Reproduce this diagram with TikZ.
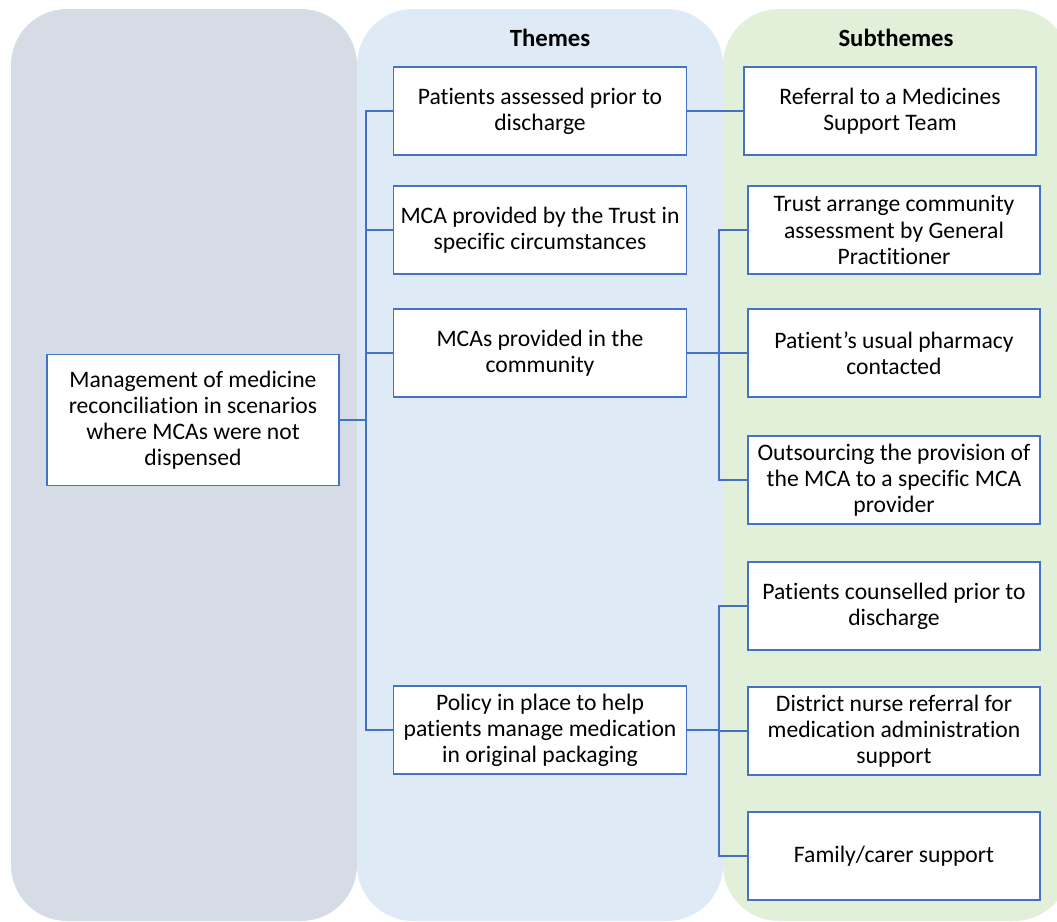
\documentclass[tikz,border=0pt]{standalone}
\usepackage{fontspec}
\setmainfont[Ligatures={NoCommon}]{Carlito}
\usepackage{tikz}

\definecolor{panelgrey}{HTML}{D6DCE5}
\definecolor{panelblue}{HTML}{DEEBF7}
\definecolor{panelgreen}{HTML}{E2F0D9}
\definecolor{linkblue}{HTML}{4472C4}

\tikzset{
  panel/.style={rounded corners=1.4cm},
  box/.style={draw=linkblue, line width=1pt, fill=white, align=center,
    minimum width=7.3cm, minimum height=2.2cm, inner sep=2pt,
    font=\fontsize{16.8pt}{18.6pt}\selectfont},
  head/.style={font=\fontsize{17.6pt}{20pt}\selectfont\bfseries},
  link/.style={draw=linkblue, line width=1pt}
}

\begin{document}
\begin{tikzpicture}[x=0.025cm, y=-0.025cm]
\clip (0,0) rectangle (1057,921);

\fill[panelgrey, panel] (11,9) rectangle (357,921);
\fill[panelblue, panel] (357,9) rectangle (723,921);
\fill[panelgreen, panel] (723,9) rectangle (1070,921);

\node[head] (themes) at (550,38) {Themes};
\node[head] (subthemes) at (896,38) {Subthemes};

\node[box, minimum height=3.275cm] (main) at (193,420) {Management of medicine\\reconciliation in scenarios\\where MCAs were not\\dispensed};

\node[box, minimum width=7.325cm] (t1) at (540,111) {Patients assessed prior to\\discharge};
\node[box, minimum width=7.325cm] (t2) at (540,230) {MCA provided by the Trust in\\specific circumstances};
\node[box, minimum width=7.325cm] (t3) at (540,353) {MCAs provided in the\\community};
\node[box, minimum width=7.325cm] (t4) at (540,730) {Policy in place to help\\patients manage medication\\in original packaging};

\node[box] (s1) at (890,111) {Referral to a Medicines\\Support Team};
\node[box] (s2) at (894,230) {Trust arrange community\\assessment by General\\Practitioner};
\node[box] (s3) at (894,353) {Patient’s usual pharmacy\\contacted};
\node[box] (s4) at (894,480) {Outsourcing the provision of\\the MCA to a specific MCA\\provider};
\node[box] (s5) at (894,606) {Patients counselled prior to\\discharge};
\node[box] (s6) at (894,731) {District nurse referral for\\medication administration\\support};
\node[box] (s7) at (894,856) {Family/carer support};

\coordinate (trunk) at (366,420);
\coordinate (fork1) at (719,353);
\coordinate (fork2) at (719,730);

\draw[link] (main.east) -- (trunk);
\foreach \t in {t1,t2,t3,t4}
  \draw[link] (trunk) |- (\t.west);

\draw[link] (t1.east) -- (s1.west);

\draw[link] (t3.east) -- (fork1);
\foreach \s in {s2,s3,s4}
  \draw[link] (fork1) |- (\s.west);

\draw[link] (t4.east) -- (fork2);
\foreach \s in {s5,s6,s7}
  \draw[link] (fork2) |- (\s.west);

\end{tikzpicture}
\end{document}
